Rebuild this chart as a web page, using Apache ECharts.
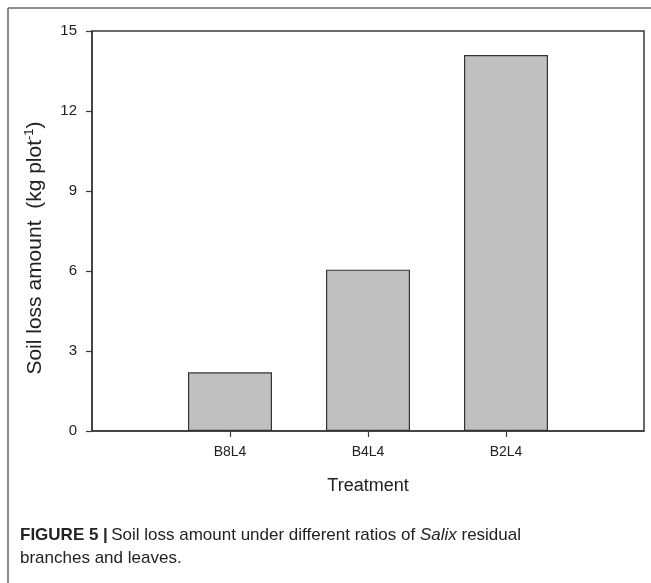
<!DOCTYPE html>
<html>
<head>
<meta charset="utf-8">
<script src="https://cdn.jsdelivr.net/npm/echarts@6/dist/echarts.min.js"></script>
<style>
html,body{margin:0;padding:0;background:#fff;}
#chart{width:651px;height:583px;}
</style>
</head>
<body>
<div id="chart"></div>
<script>
// Data
var categories = ['B8L4', 'B4L4', 'B2L4'];
var soilLoss = [2.2, 6.05, 14.1];
var yTicks = [0, 3, 6, 9, 12, 15];

var xData = [''].concat(categories).concat(['']);
var barData = [null].concat(soilLoss).concat([null]);

var chart = echarts.init(document.getElementById('chart'), null, {renderer: 'canvas'});
var font = 'Liberation Sans, Arial, Helvetica, sans-serif';
var option = {
  backgroundColor: '#fff',
  animation: false,
  grid: {left: 92, right: 7, top: 31, bottom: 152, show: true, borderColor: '#3a3a3a', borderWidth: 1.5, backgroundColor: 'transparent'},
  xAxis: {
    type: 'category',
    data: xData,
    boundaryGap: false,
    name: 'Treatment',
    nameLocation: 'middle',
    nameGap: 46,
    nameTextStyle: {fontFamily: font, fontSize: 18, color: '#222'},
    axisLine: {show: true, lineStyle: {color: '#3a3a3a', width: 1.5}},
    axisTick: {show: true, length: 6, inside: false, lineStyle: {color: '#3a3a3a', width: 1.2},
      interval: function (index) { return index > 0 && index <= categories.length; }},
    axisLabel: {fontFamily: font, fontSize: 14, color: '#222', margin: 14, interval: 0},
    splitLine: {show: false}
  },
  yAxis: {
    type: 'value',
    min: yTicks[0],
    max: yTicks[yTicks.length - 1],
    interval: yTicks[1] - yTicks[0],
    name: '{n|Soil loss amount  (kg plot}{s|-1}{n|)}',
    nameLocation: 'middle',
    nameGap: 44,
    nameRotate: 90,
    nameTextStyle: {
      fontFamily: font, fontSize: 21, color: '#222',
      padding: [0, 34, 0, 0],
      rich: {
        n: {fontFamily: font, fontSize: 21, color: '#222'},
        s: {fontFamily: font, fontSize: 13, color: '#222', verticalAlign: 'top', padding: [0, 0, 12, 0]}
      }
    },
    axisLine: {show: true, lineStyle: {color: '#3a3a3a', width: 1.5}},
    axisTick: {show: true, length: 6, inside: false, lineStyle: {color: '#3a3a3a', width: 1.2}},
    axisLabel: {fontFamily: font, fontSize: 15, color: '#222', margin: 15},
    splitLine: {show: false}
  },
  series: [{
    type: 'bar',
    data: barData,
    barWidth: 84,
    itemStyle: {color: '#c0c0c0', borderColor: '#333', borderWidth: 1.2}
  }],
  graphic: [
    {type: 'line', shape: {x1: 8, y1: 8, x2: 651, y2: 8}, style: {stroke: '#666', lineWidth: 1.5}},
    {type: 'line', shape: {x1: 8, y1: 8, x2: 8, y2: 583}, style: {stroke: '#666', lineWidth: 1.5}},
    {type: 'text', left: 20, top: 527, style: {
      text: '{b|FIGURE 5 |} {n|Soil loss amount under different ratios of }{i|Salix}{n| residual}',
      rich: {
        b: {fontFamily: font, fontSize: 17, fontWeight: 'bold', fill: '#222'},
        n: {fontFamily: font, fontSize: 17, fill: '#222'},
        i: {fontFamily: font, fontSize: 17, fontStyle: 'italic', fill: '#222'}
      }
    }},
    {type: 'text', left: 20, top: 550, style: {
      text: 'branches and leaves.', fontFamily: font, fontSize: 17, fill: '#222'
    }}
  ]
};
chart.setOption(option);
</script>
</body>
</html>
